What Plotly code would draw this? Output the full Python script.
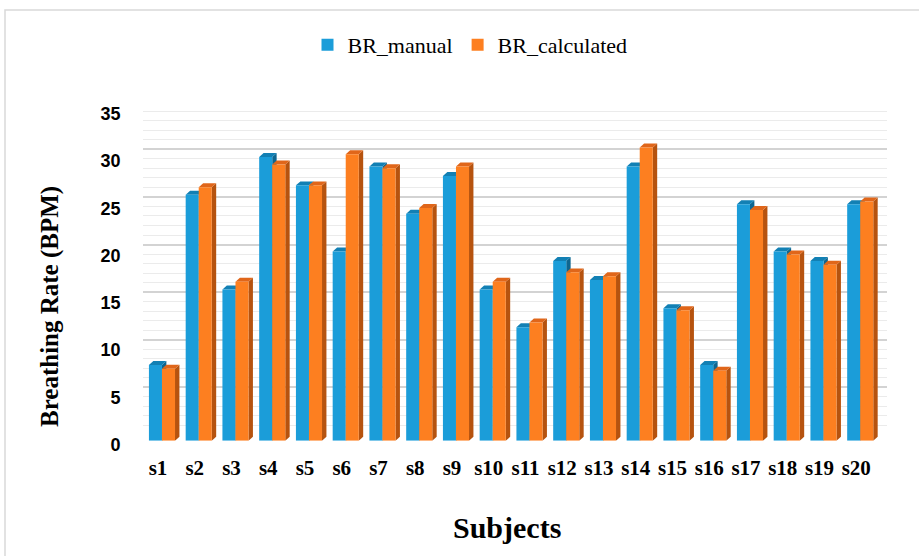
import plotly.graph_objects as go

W, H = 919, 556

subjects = [f"s{i}" for i in range(1, 21)]
br_manual = [8, 26, 16, 30, 27, 20, 29, 24, 28, 16, 12, 19, 17, 29, 14, 8, 25, 20, 19, 25]
br_calculated = [7.6, 26.8, 16.8, 29.2, 27.0, 30.3, 28.8, 24.6, 29.0, 16.8,
                 12.5, 17.8, 17.4, 31.0, 13.8, 7.4, 24.4, 19.7, 18.6, 25.3]
y_ticks = [0, 5, 10, 15, 20, 25, 30, 35]

BLUE, BLUE_TOP, BLUE_SIDE = "#1b9dd9", "#1280b4", "#0e6690"
ORANGE, ORANGE_TOP, ORANGE_SIDE = "#fd7f20", "#e0661a", "#b6530f"

BARGAP = 0.29
BW = (1 - BARGAP) / 2
DX = 0.12   # depth offset in category units
DY = 0.42   # depth offset in value units


def px_x(p):
    return p / W


def px_y(p):
    return 1 - p / H


fig = go.Figure()

# empty trace so the back-wall grid subplot exists
fig.add_trace(go.Scatter(x=[], y=[], xaxis="x", yaxis="y", showlegend=False, hoverinfo="skip"))

fig.add_trace(go.Bar(x=subjects, y=br_manual, name="BR_manual", marker=dict(color=BLUE, line=dict(width=0)),
                     xaxis="x2", yaxis="y2"))
fig.add_trace(go.Bar(x=subjects, y=br_calculated, name="BR_calculated",
                     marker=dict(color=ORANGE, line=dict(width=0)), xaxis="x2", yaxis="y2"))

shapes = []


def faces(i, v, x_left, top_col, side_col):
    x_right = x_left + BW
    side = (f"M {x_right},0 L {x_right + DX},{DY} L {x_right + DX},{v + DY} L {x_right},{v} Z")
    top = (f"M {x_left},{v} L {x_left + DX},{v + DY} L {x_right + DX},{v + DY} L {x_right},{v} Z")
    return [
        dict(type="path", path=side, xref="x2", yref="y2", fillcolor=side_col, line=dict(width=0), layer="below"),
        dict(type="path", path=top, xref="x2", yref="y2", fillcolor=top_col, line=dict(width=0), layer="below"),
    ]


for i, v in enumerate(br_manual):
    shapes += faces(i, v, i - BW, BLUE_TOP, BLUE_SIDE)
for i, v in enumerate(br_calculated):
    shapes += faces(i, v, i, ORANGE_TOP, ORANGE_SIDE)

# outer chart border
shapes.append(dict(type="rect", xref="paper", yref="paper", x0=px_x(5), x1=1.02, y0=-0.02, y1=px_y(10),
                   line=dict(color="#d9d9d9", width=1.5), fillcolor="rgba(0,0,0,0)", layer="below"))

fig.update_layout(
    width=W, height=H,
    margin=dict(l=0, r=0, t=0, b=0, autoexpand=False),
    paper_bgcolor="white",
    plot_bgcolor="rgba(0,0,0,0)",
    barmode="group",
    bargap=BARGAP,
    bargroupgap=0,
    showlegend=True,
    legend=dict(orientation="h", x=px_x(470), xanchor="center", y=px_y(45), yanchor="middle",
                font=dict(family="Liberation Serif", size=22, color="#000"), itemwidth=30,
                traceorder="normal", bgcolor="rgba(0,0,0,0)"),
    # back-wall grid (drawn first)
    xaxis=dict(domain=[px_x(143), px_x(887)], range=[0, 1], showticklabels=False, showgrid=False,
               zeroline=False, showline=False, ticks="", fixedrange=True, automargin=False),
    yaxis=dict(domain=[px_y(435), px_y(101.7)], range=[0, 35], showgrid=True, gridcolor="#d3d3d3",
               gridwidth=2, tickvals=y_ticks, showticklabels=False, zeroline=False, showline=False,
               ticks="", automargin=False,
               minor=dict(dtick=1, showgrid=True, gridcolor="#ebebeb", gridwidth=1), anchor="x"),
    # bars
    xaxis2=dict(domain=[px_x(143.6), px_x(878.6)], range=[-0.5, 19.5], anchor="y2", type="category",
                showgrid=False, showline=False, zeroline=False, ticks="", automargin=False,
                tickfont=dict(family="Liberation Serif", size=21, color="#000", weight="bold"),
                ticklabelstandoff=12, ticklabelshift=-4),
    yaxis2=dict(domain=[px_y(440.7), px_y(109.7)], range=[0, 35], anchor="x2", showgrid=False,
                zeroline=False, showline=False, tickvals=y_ticks, ticks="", automargin=False,
                tickfont=dict(family="Liberation Sans", size=18, color="#000", weight="bold"),
                ticklabelstandoff=22, ticklabelshift=4),
    shapes=shapes,
    annotations=[
        dict(text="Breathing Rate (BPM)", xref="paper", yref="paper", x=px_x(50), y=px_y(307),
             xanchor="center", yanchor="middle", textangle=-90, showarrow=False,
             font=dict(family="Liberation Serif", size=25, color="#000", weight="bold")),
        dict(text="Subjects", xref="paper", yref="paper", x=px_x(507), y=px_y(527),
             xanchor="center", yanchor="middle", showarrow=False,
             font=dict(family="Liberation Serif", size=30, color="#000", weight="bold")),
    ],
)

fig.write_html("out.html")
